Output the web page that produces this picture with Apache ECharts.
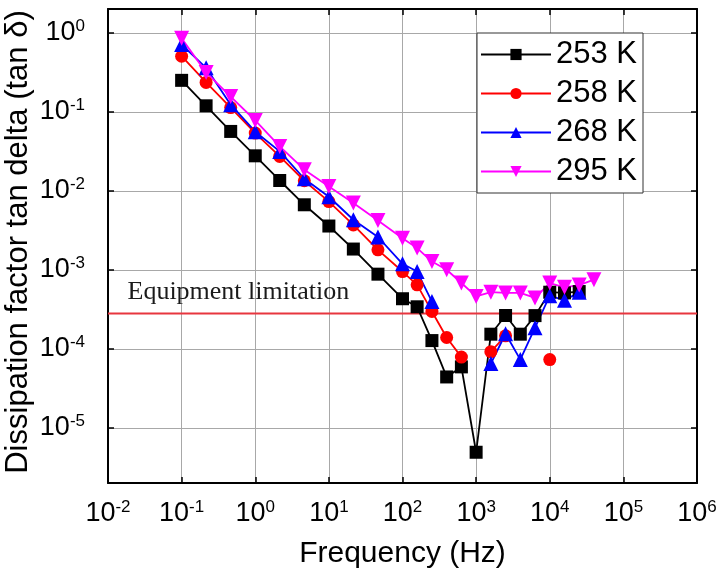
<!DOCTYPE html>
<html>
<head>
<meta charset="utf-8">
<script src="https://cdn.jsdelivr.net/npm/echarts@6/dist/echarts.min.js"></script>
<style>
html,body{margin:0;padding:0;background:#fff;}
#chart{width:720px;height:579px;}
</style>
</head>
<body>
<div id="chart"></div>
<script>
// Frequencies (Hz)
const freq = [0.1, 0.215, 0.464, 1, 2.15, 4.64, 10, 21.5, 46.4, 100, 158, 251, 398, 631, 1000, 1585, 2512, 3981, 6310, 10000, 15849, 25119, 39811];
// Dissipation factor per temperature (null = no data)
const k253 = [0.25, 0.119, 0.0564, 0.0277, 0.0135, 0.00665, 0.00358, 0.00183, 8.8e-4, 4.3e-4, 3.4e-4, 1.27e-4, 4.4e-5, 5.9e-5, 4.9e-6, 1.53e-4, 2.64e-4, 1.53e-4, 2.63e-4, 5.2e-4, 5.1e-4, 5.3e-4, null];
const k258 = [0.505, 0.235, 0.113, 0.0537, 0.0272, 0.0134, 0.0073, 0.0037, 0.00179, 9.5e-4, 6.45e-4, 2.97e-4, 1.39e-4, 7.85e-5, null, 9.2e-5, 1.46e-4, null, null, 7.3e-5, null, null, null];
const k268 = [0.71, 0.36, 0.123, 0.056, 0.0315, 0.0142, 0.0084, 0.0043, 0.0026, 0.00119, 9.5e-4, 3.96e-4, null, null, null, 6.5e-5, 1.55e-4, 7.3e-5, 1.85e-4, 4.7e-4, 4.1e-4, 5.2e-4, null];
const k295 = [0.85, 0.315, 0.156, 0.0776, 0.0364, 0.0185, 0.0113, 0.0070, 0.0042, 0.0025, 0.00188, 0.00127, 0.0010, 6.8e-4, 4.6e-4, 5.2e-4, 5.1e-4, 5.1e-4, 4.4e-4, 6.8e-4, 6.0e-4, 6.4e-4, 7.5e-4];
const seriesNames = ['253 K', '258 K', '268 K', '295 K'];
// Equipment limitation level, drawn across the full x range
const equipmentLimit = 2.8e-4;
const limitX = [0.01, 1e6];
const limitLabel = 'Equipment limitation';
const xTitle = 'Frequency (Hz)';
const yTitle = 'Dissipation factor tan delta (tan δ)';

const pairs = arr => freq.map((f, i) => [f, arr[i]]);

function powLabel(v) {
  const l = Math.log10(v);
  const e = Math.round(l);
  if (Math.abs(l - e) > 1e-6) return '';
  return '{b|10}{s|' + e + '}';
}
const rich = {
  b: {fontSize: 27, fontFamily: 'Liberation Sans', color: '#000', lineHeight: 30},
  s: {fontSize: 17, fontFamily: 'Liberation Sans', color: '#000', verticalAlign: 'top', lineHeight: 17}
};

const gridL = 108, gridT = 9, gridR = 23, gridB = 96;
const tickStyle = {show: true, inside: true, length: 6, lineStyle: {color: '#000', width: 1.5}};
const axisLine = {show: true, lineStyle: {color: '#000', width: 2}};
const splitLine = {show: true, lineStyle: {color: '#a8a8a8', width: 1}};

const common = {type: 'line', xAxisIndex: 0, yAxisIndex: 0, connectNulls: false, lineStyle: {width: 1.8}};

const chart = echarts.init(document.getElementById('chart'), null, {renderer: 'canvas'});
chart.setOption({
  animation: false,
  backgroundColor: '#fff',
  grid: {left: gridL, top: gridT, right: gridR, bottom: gridB, containLabel: false, outerBoundsMode: 'none'},
  legend: {
    orient: 'vertical', left: 477, top: 33,
    itemWidth: 70, itemHeight: 14, itemGap: 8,
    padding: [6, 6, 6, 3],
    backgroundColor: '#fff', borderColor: '#333', borderWidth: 1,
    textStyle: {fontSize: 31, fontFamily: 'Liberation Sans', color: '#000', lineHeight: 30},
    data: seriesNames
  },
  xAxis: [{
    type: 'log', logBase: 10, min: 0.01, max: 1e6, position: 'bottom',
    name: xTitle, nameLocation: 'middle', nameGap: 56, nameMoveOverlap: false,
    nameTextStyle: {fontSize: 30, fontFamily: 'Liberation Sans', color: '#000'},
    axisLine: axisLine, axisTick: tickStyle, splitLine: splitLine, minorTick: {show: false},
    axisLabel: {formatter: powLabel, rich: rich, margin: 16}
  }, {
    type: 'log', logBase: 10, min: 0.01, max: 1e6, position: 'top',
    axisLine: axisLine, axisTick: tickStyle, splitLine: {show: false}, axisLabel: {show: false}
  }],
  yAxis: [{
    type: 'log', logBase: 10, min: 2e-6, max: 2, position: 'left',
    name: yTitle, nameLocation: 'middle', nameGap: 74, nameRotate: 90, nameMoveOverlap: false,
    nameTextStyle: {fontSize: 31, fontFamily: 'Liberation Sans', color: '#000', padding: [0, 0, 0, 8]},
    axisLine: axisLine, axisTick: tickStyle, splitLine: splitLine,
    axisLabel: {formatter: powLabel, rich: rich, margin: 23}
  }, {
    type: 'log', logBase: 10, min: 2e-6, max: 2, position: 'right',
    axisLine: axisLine, axisTick: tickStyle, splitLine: {show: false}, axisLabel: {show: false}
  }],
  series: [
    {
      type: 'line', name: 'limit', xAxisIndex: 0, yAxisIndex: 0, silent: true,
      symbol: 'circle', symbolSize: 1, itemStyle: {opacity: 0},
      lineStyle: {color: '#e8363f', width: 2},
      data: [
        {value: [limitX[0], equipmentLimit], label: {show: true, formatter: limitLabel, position: [20, -34],
          fontFamily: 'Liberation Serif', fontSize: 26, color: '#1a1a1a', opacity: 1}},
        [limitX[1], equipmentLimit]
      ]
    },
    Object.assign({}, common, {name: seriesNames[0], data: pairs(k253), color: '#000000', symbol: 'rect', symbolSize: 13}),
    Object.assign({}, common, {name: seriesNames[1], data: pairs(k258), color: '#ff0000', symbol: 'circle', symbolSize: 13}),
    Object.assign({}, common, {name: seriesNames[2], data: pairs(k268), color: '#0000ff', symbol: 'triangle', symbolSize: 15}),
    Object.assign({}, common, {name: seriesNames[3], data: pairs(k295), color: '#ff00ff', symbol: 'triangle', symbolRotate: 180, symbolSize: 15})
  ]
});
</script>
</body>
</html>
